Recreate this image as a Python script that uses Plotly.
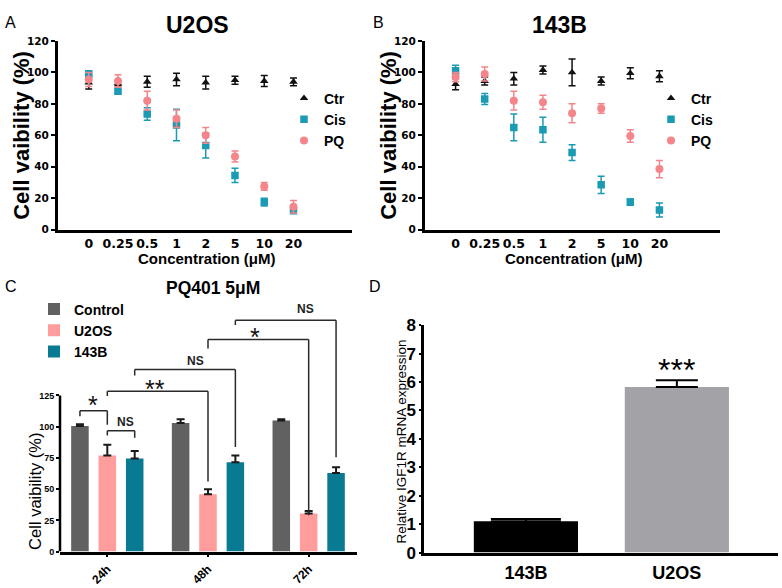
import plotly.graph_objects as go

W, H = 782, 588

# ---------------- data ----------------
conc = ["0", "0.25", "0.5", "1", "2", "5", "10", "20"]

u2os_ctr = [93.5, 93, 94, 95.5, 93.5, 95, 94.5, 94]
u2os_ctr_err = [4, 1.5, 3.5, 4, 4, 2.5, 3.5, 2.5]
u2os_cis = [99, 88, 73.5, 66.5, 53.5, 34.5, 17.5, 12]
u2os_cis_err = [2, 1, 4, 10, 8, 4.5, 2.5, 1.5]
u2os_pq = [95.5, 94.5, 82, 70.5, 60, 46.5, 27.5, 14.5]
u2os_pq_err = [4.5, 4, 6, 5.5, 5, 3.5, 2.5, 4]

b143_ctr = [92.5, 94.5, 96, 101.5, 100, 94.5, 99.5, 97.5]
b143_ctr_err = [3.5, 2.5, 4, 2.5, 8.5, 2.5, 3.5, 3.5]
b143_cis = [101, 83, 65, 63.5, 49, 28.5, 17.5, 12.5]
b143_cis_err = [3.5, 3.5, 8.5, 8, 5, 5.5, 2, 4.5]
b143_pq = [97, 99, 82, 81, 74, 77, 59.5, 38.5]
b143_pq_err = [3, 4.5, 6, 4.5, 6, 3, 4, 5.5]

series_names = ["Ctr", "Cis", "PQ"]

c_groups = ["24h", "48h", "72h"]
c_series = ["Control", "U2OS", "143B"]
c_control = [100.5, 103, 105]
c_control_err = [1.5, 3, 1]
c_u2os = [77, 46, 30.5]
c_u2os_err = [8.5, 4, 2]
c_143b = [74.5, 71.5, 63]
c_143b_err = [6, 5.5, 4.6]

# significance brackets: (group, series) start, (group, series) end, labels
sig_pairs = [((0, 0), (0, 1)), ((0, 1), (0, 2)), ((0, 1), (1, 1)),
             ((0, 2), (1, 2)), ((1, 1), (2, 1)), ((1, 2), (2, 2))]
sig_labels = ["*", "NS", "**", "NS", "*", "NS"]
sig_top = [112.7, 96.7, 128.4, 145.7, 169.8, 185.3]
sig_left_end = [108.3, 93, 124.6, 140.9, 162.6, 181.4]
sig_right_end = [101.5, 91.2, 56.1, 83.7, 29, 75.5]
sig_text_x = [-0.14, 0.18, 0.47, 0.88, 1.47, 1.97]
sig_text_y = [122, 104, 135, 152.5, 176.3, 194.3]

d_cats = ["143B", "U2OS"]
d_vals = [1.1, 5.82]
d_err = [0.08, 0.24]
d_colors = ["#000000", "#a2a2a7"]

# ---------------- styles ----------------
COL_CTR = "#111111"
COL_CIS = "#1b9ab3"
COL_PQ = "#f4858a"
sc_styles = [("triangle-up", COL_CTR, 7.5), ("square", COL_CIS, 7.5), ("circle", COL_PQ, 8)]
bar_colors = ["#616161", "#ff9d9d", "#087a91"]

ARIAL = "Liberation Sans, Arial, sans-serif"
DEJAVU = "DejaVu Sans, sans-serif"


def px(p):
    return p / W


def py(p):
    return 1 - p / H


fig = go.Figure()

# Panels A and B
for (vals_list, err_list, xa, ya, leg) in [
    ([u2os_ctr, u2os_cis, u2os_pq], [u2os_ctr_err, u2os_cis_err, u2os_pq_err], "x", "y", "legend"),
    ([b143_ctr, b143_cis, b143_pq], [b143_ctr_err, b143_cis_err, b143_pq_err], "x2", "y2", "legend2"),
]:
    for name, vals, errs, (sym, col, size) in zip(series_names, vals_list, err_list, sc_styles):
        fig.add_trace(go.Scatter(
            x=conc, y=vals, mode="markers", name=name,
            marker=dict(symbol=sym, color=col, size=size),
            error_y=dict(type="data", array=errs, color=col, thickness=1.5, width=3.5),
            xaxis=xa, yaxis=ya, legend=leg,
        ))

# Panel C
for name, vals, errs, col in zip(c_series, [c_control, c_u2os, c_143b],
                                 [c_control_err, c_u2os_err, c_143b_err], bar_colors):
    fig.add_trace(go.Bar(
        x=c_groups, y=vals, name=name, marker=dict(color=col, line=dict(width=0)),
        error_y=dict(type="data", array=errs, arrayminus=[0] * len(errs), symmetric=False,
                     color="#1a1a1a", thickness=2, width=4),
        xaxis="x3", yaxis="y3", legend="legend3",
    ))

# Panel D
for cat, val, err, col, cap in zip(d_cats, d_vals, d_err, d_colors, [35, 21]):
    fig.add_trace(go.Bar(
        x=[cat], y=[val], name=cat, width=0.69, offsetgroup="d",
        marker=dict(color=col, line=dict(width=0)),
        error_y=dict(type="data", array=[err], arrayminus=[0], symmetric=False,
                     color="#000000", thickness=2, width=cap),
        xaxis="x4", yaxis="y4", showlegend=False,
    ))

BARGAP = 0.184
slot = (1 - BARGAP) / 3

shapes = []
# y axis line of C, only up to 125
shapes.append(dict(type="line", xref="x3 domain", yref="y3", x0=0, x1=0, y0=0, y1=125,
                   line=dict(color="black", width=2.5)))
annotations = []
for (s, e), lab, yt, yl, yr, tx, ty in zip(sig_pairs, sig_labels, sig_top, sig_left_end,
                                           sig_right_end, sig_text_x, sig_text_y):
    x1 = s[0] + (s[1] - 1) * slot
    x2 = e[0] + (e[1] - 1) * slot
    ln = dict(color="#2a2a2a", width=1.5)
    shapes.append(dict(type="line", xref="x3", yref="y3", x0=x1, x1=x1, y0=yl, y1=yt, line=ln))
    shapes.append(dict(type="line", xref="x3", yref="y3", x0=x1, x1=x2, y0=yt, y1=yt, line=ln))
    shapes.append(dict(type="line", xref="x3", yref="y3", x0=x2, x1=x2, y0=yt, y1=yr, line=ln))
    if lab == "NS":
        annotations.append(dict(xref="x3", yref="y3", x=tx, y=ty, text="NS", showarrow=False,
                                font=dict(family=ARIAL, size=12, weight="bold", color="#222")))
    else:
        annotations.append(dict(xref="x3", yref="y3", x=tx, y=ty, text=lab, showarrow=False,
                                yshift=-6, font=dict(family=ARIAL, size=25, color="#111")))


# text annotations (paper, pixel-derived)
def ann(x, y, text, size, bold=False, family=ARIAL, angle=0, color="black"):
    annotations.append(dict(xref="paper", yref="paper", x=px(x), y=py(y), text=text,
                            showarrow=False, textangle=angle, xanchor="center", yanchor="middle",
                            font=dict(family=family, size=size, color=color,
                                      weight="bold" if bold else "normal")))


ann(10, 14, "A", 16)
ann(378, 14, "B", 16)
ann(11, 287, "C", 16)
ann(375, 287, "D", 16)
ann(197, 17, "U2OS", 23, bold=True)
ann(559, 17, "143B", 23, bold=True)
ann(22, 131, "Cell vaibility (%)", 22, bold=True, angle=-90)
ann(389, 131, "Cell vaibility (%)", 22, bold=True, angle=-90)
ann(207, 258, "Concentration (μM)", 15, bold=True)
ann(574, 258, "Concentration (μM)", 15, bold=True)
ann(213, 288, "PQ401 5μM", 17.5, bold=True)
ann(35, 499, "Cell vaibility (%)", 16.5, angle=-90)
ann(402, 447, "Relative IGF1R mRNA expression", 13.5, angle=-90)
annotations.append(dict(xref="x4", yref="y4", x="U2OS", y=6.69, text="***", showarrow=False,
                        yshift=-8, font=dict(family=ARIAL, size=32, color="black")))

axis_common = dict(showgrid=False, zeroline=False, linecolor="black", tickcolor="black")

fig.update_layout(
    width=W, height=H, margin=dict(l=0, r=0, t=0, b=0),
    paper_bgcolor="white", plot_bgcolor="white",
    font=dict(family=ARIAL, color="black"),
    barmode="group", bargap=BARGAP, bargroupgap=0.36,
    xaxis=dict(domain=[px(58), px(352)], range=[-1.05, 9.0], type="category", anchor="y",
               showline=True, linewidth=3, ticks="", tickangle=0, ticklabelstandoff=0,
               tickfont=dict(family=DEJAVU, size=12.5, weight="bold"), **axis_common),
    yaxis=dict(domain=[py(228), py(33)], range=[0, 120], tickvals=[0, 20, 40, 60, 80, 100, 120],
               anchor="x", showline=True, linewidth=3, ticks="outside", ticklen=4, tickwidth=2,
               tickfont=dict(family=DEJAVU, size=10.5, weight="bold"), **axis_common),
    xaxis2=dict(domain=[px(425), px(720)], range=[-1.05, 9.08], type="category", anchor="y2",
                showline=True, linewidth=3, ticks="", tickangle=0, ticklabelstandoff=0,
                tickfont=dict(family=DEJAVU, size=12.5, weight="bold"), **axis_common),
    yaxis2=dict(domain=[py(228), py(33)], range=[0, 120], tickvals=[0, 20, 40, 60, 80, 100, 120],
                anchor="x2", showline=True, linewidth=3, ticks="outside", ticklen=4, tickwidth=2,
                tickfont=dict(family=DEJAVU, size=10.5, weight="bold"), **axis_common),
    xaxis3=dict(domain=[px(60), px(357)], range=[-0.47, 2.48], type="category", anchor="y3",
                showline=True, linewidth=2.5, ticks="outside", ticklen=3, tickwidth=1.5,
                tickangle=-45, ticklabelstandoff=0,
                tickfont=dict(family=ARIAL, size=12, weight="bold"), **axis_common),
    yaxis3=dict(domain=[py(560.7), py(300)], range=[0, 202],
                tickvals=[0, 25, 50, 75, 100, 125], anchor="x3", showline=False,
                ticks="outside", ticklen=3, tickwidth=1.5,
                tickfont=dict(family=ARIAL, size=9, weight="bold"), **axis_common),
    xaxis4=dict(domain=[px(424), px(778)], range=[-0.675, 1.67], type="category", anchor="y4",
                showline=True, linewidth=2.5, ticks="", ticklabelstandoff=2,
                tickfont=dict(family=ARIAL, size=18, weight="bold"), **axis_common),
    yaxis4=dict(domain=[py(561.7), py(326.7)], range=[0, 8], dtick=1, anchor="x4",
                showline=True, linewidth=2.5, ticks="outside", ticklen=2, tickwidth=1.5,
                ticklabelstandoff=0,
                tickfont=dict(family=ARIAL, size=17, weight="bold"), **axis_common),
    legend=dict(x=px(284), y=py(76), xanchor="left", yanchor="top", bgcolor="rgba(0,0,0,0)",
                font=dict(family=ARIAL, size=14, weight="bold"), tracegroupgap=0),
    legend2=dict(x=px(651), y=py(76), xanchor="left", yanchor="top", bgcolor="rgba(0,0,0,0)",
                 font=dict(family=ARIAL, size=14, weight="bold"), tracegroupgap=0),
    legend3=dict(x=px(34), y=py(294), xanchor="left", yanchor="top", bgcolor="rgba(0,0,0,0)",
                 font=dict(family=ARIAL, size=14, weight="bold"), tracegroupgap=0),
    shapes=shapes,
    annotations=annotations,
)

fig.write_html(
    "out.html",
    config={"displayModeBar": False},
    post_script="document.body.style.margin='0';document.body.style.overflow='hidden';",
)
